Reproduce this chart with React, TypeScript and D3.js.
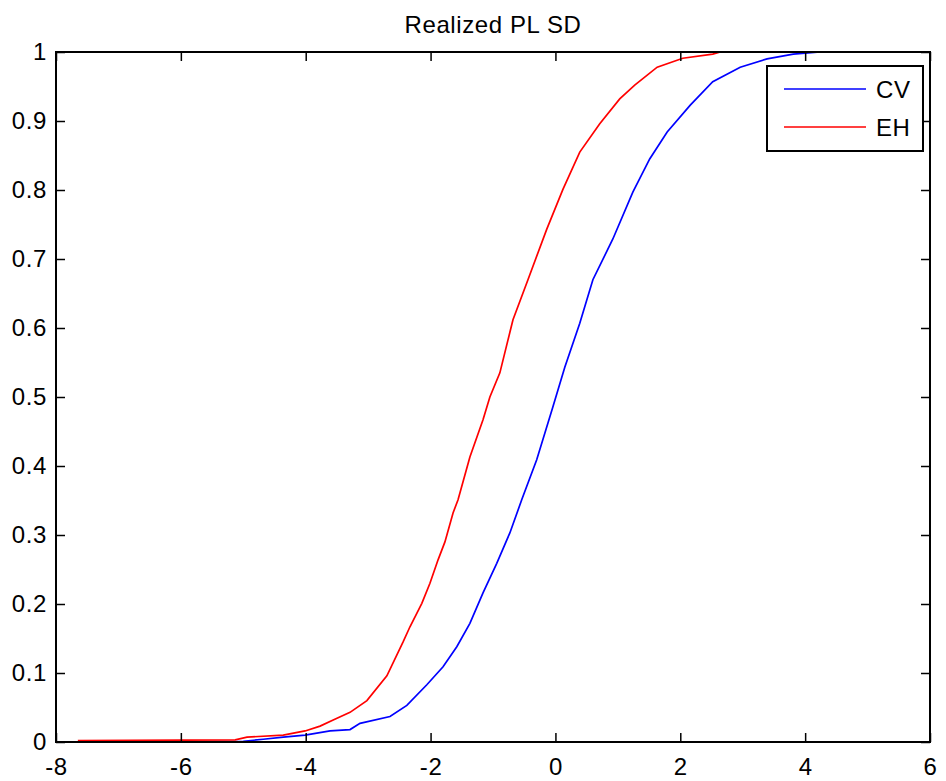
import * as d3 from 'd3'
import { useRef, useEffect } from 'react'

const cvX = [-6.14, -5.0, -4.68, -4.36, -4.01, -3.61, -3.29, -3.13, -2.65, -2.38, -2.06, -1.8, -1.58, -1.37, -1.16, -0.94, -0.73, -0.54, -0.3, -0.04, 0.15, 0.39, 0.6, 0.92, 1.24, 1.51, 1.79, 2.16, 2.52, 2.96, 3.39, 3.81, 4.24, 4.99]
const cvP = [0.0, 0.001, 0.004, 0.007, 0.01, 0.016, 0.018, 0.027, 0.037, 0.053, 0.083, 0.109, 0.138, 0.172, 0.216, 0.259, 0.303, 0.351, 0.409, 0.486, 0.543, 0.607, 0.67, 0.729, 0.797, 0.845, 0.884, 0.923, 0.957, 0.978, 0.99, 0.997, 1.0, 1.0]

const ehX = [-7.65, -5.13, -4.94, -4.36, -4.01, -3.77, -3.56, -3.29, -3.02, -2.7, -2.44, -2.33, -2.14, -2.01, -1.88, -1.77, -1.64, -1.56, -1.37, -1.16, -1.05, -0.89, -0.68, -0.44, -0.14, 0.12, 0.39, 0.71, 1.03, 1.27, 1.63, 2.04, 2.52, 2.64, 3.17]
const ehP = [0.002, 0.003, 0.007, 0.01, 0.016, 0.023, 0.032, 0.043, 0.06, 0.096, 0.145, 0.167, 0.201, 0.23, 0.264, 0.29, 0.332, 0.351, 0.413, 0.467, 0.5, 0.535, 0.612, 0.67, 0.743, 0.801, 0.855, 0.896, 0.932, 0.952, 0.978, 0.991, 0.997, 1.0, 1.0]

const xTicks = [-8, -6, -4, -2, 0, 2, 4, 6]
const yTicks = [0, 0.1, 0.2, 0.3, 0.4, 0.5, 0.6, 0.7, 0.8, 0.9, 1]
const seriesNames = ['CV', 'EH']
const seriesColors = ['#0000ff', '#ff0000']
const title = 'Realized PL SD'

export default function App() {
  const svgRef = useRef<SVGSVGElement>(null)
  const width = 946
  const height = 781

  useEffect(() => {
    const svg = d3.select(svgRef.current)
    svg.selectAll('*').remove()

    const margin = { top: 52, right: 16, bottom: 39, left: 56 }
    const innerWidth = width - margin.left - margin.right
    const innerHeight = height - margin.top - margin.bottom
    const font = '"Liberation Sans", Arial, sans-serif'
    const fontSize = '24px'
    const spacing = '0.6px'
    const tickLen = 9

    const xScale = d3.scaleLinear().domain([-8, 6]).range([0, innerWidth])
    const yScale = d3.scaleLinear().domain([0, 1]).range([innerHeight, 0])

    svg.append('rect').attr('width', width).attr('height', height).attr('fill', 'white')

    const g = svg.append('g').attr('transform', `translate(${margin.left},${margin.top})`)

    const series = [
      cvX.map((x, i) => [x, cvP[i]] as [number, number]),
      ehX.map((x, i) => [x, ehP[i]] as [number, number]),
    ]
    const line = d3.line<[number, number]>()
      .x(d => xScale(d[0]))
      .y(d => yScale(d[1]))

    series.forEach((s, i) => {
      g.append('path')
        .datum(s)
        .attr('d', line)
        .attr('fill', 'none')
        .attr('stroke', seriesColors[i])
        .attr('stroke-width', 1.7)
    })

    // inward ticks on all four sides
    const xb = d3.axisBottom(xScale).tickValues(xTicks).tickSizeInner(-tickLen).tickSizeOuter(0).tickPadding(16).tickFormat(d => String(d))
    const xt = d3.axisTop(xScale).tickValues(xTicks).tickSizeInner(-tickLen).tickSizeOuter(0).tickFormat(() => '')
    const yl = d3.axisLeft(yScale).tickValues(yTicks).tickSizeInner(-tickLen).tickSizeOuter(0).tickPadding(9).tickFormat(d => String(d))
    const yr = d3.axisRight(yScale).tickValues(yTicks).tickSizeInner(-tickLen).tickSizeOuter(0).tickFormat(() => '')

    const styleAxis = sel => {
      sel.select('.domain').remove()
      sel.selectAll('line').attr('stroke', 'black').attr('stroke-width', 1.5)
      sel.selectAll('text').attr('fill', 'black')
        .style('font-family', font).style('font-size', fontSize).style('letter-spacing', spacing)
    }

    g.append('g').attr('transform', `translate(0,${innerHeight})`).call(xb).call(styleAxis)
    g.append('g').call(xt).call(styleAxis)
    g.append('g').call(yl).call(styleAxis)
    g.append('g').attr('transform', `translate(${innerWidth},0)`).call(yr).call(styleAxis)

    g.append('rect')
      .attr('width', innerWidth)
      .attr('height', innerHeight)
      .attr('fill', 'none')
      .attr('stroke', 'black')
      .attr('stroke-width', 2)

    svg.append('text')
      .attr('x', margin.left + innerWidth / 2)
      .attr('y', 33)
      .attr('text-anchor', 'middle')
      .style('font-family', font)
      .style('font-size', fontSize)
      .style('letter-spacing', spacing)
      .text(title)

    // legend
    const lg = g.append('g').attr('transform', `translate(${innerWidth - 163},14)`)
    lg.append('rect')
      .attr('width', 156)
      .attr('height', 85)
      .attr('fill', 'white')
      .attr('stroke', 'black')
      .attr('stroke-width', 2)
    seriesNames.forEach((name, i) => {
      const y = 23 + i * 38
      lg.append('line')
        .attr('x1', 17).attr('x2', 99)
        .attr('y1', y).attr('y2', y)
        .attr('stroke', seriesColors[i])
        .attr('stroke-width', 1.7)
      lg.append('text')
        .attr('x', 109)
        .attr('y', y + 9)
        .style('font-family', font)
        .style('font-size', fontSize)
        .style('letter-spacing', spacing)
        .text(name)
    })
  }, [])

  return (
    <svg ref={svgRef} width={width} height={height} style={{ position: 'absolute', left: 0, top: 0 }}></svg>
  )
}
